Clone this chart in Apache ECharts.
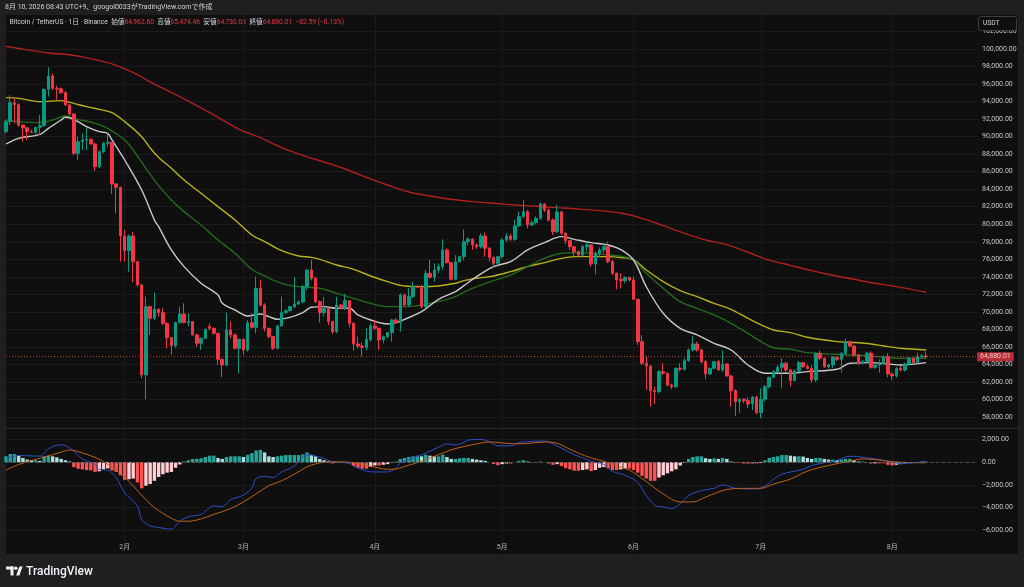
<!DOCTYPE html>
<html><head><meta charset="utf-8">
<script src="https://cdn.jsdelivr.net/npm/echarts@6/dist/echarts.min.js"></script>
<style>
html,body{margin:0;padding:0;background:#1f1f1f;width:1024px;height:587px;overflow:hidden}
#bg{position:absolute;left:6px;top:15px;width:1012px;height:539px;background:#0f0f0f}
#chart{position:absolute;left:0;top:0;width:1024px;height:587px}
</style></head><body>
<div id="bg"></div><div id="chart"></div>
<script>
// ---- axis / categories ----
const startDate = Date.UTC(2026, 0, 4);   // first daily candle
const totalSlots = 230;                    // 218 candles + empty future space
const categories = [];
for (let k = 0; k < totalSlots; k++) {
  const d = new Date(startDate + k * 86400000);
  categories.push(d.getUTCFullYear() + '-' + String(d.getUTCMonth() + 1).padStart(2, '0') + '-' + String(d.getUTCDate()).padStart(2, '0'));
}
const priceTicks = { min: 56000, max: 104000, step: 2000 };
const macdTicks = { min: -8000, max: 4000, step: 2000 };

// ---- candles [open, high, low, close] ----
const candlesJan = [
[90566,91900,90376,91707],[91707,94751,91327,93875],[93875,94370,91500,93650],[93650,93800,91100,91327],
[91327,91400,89424,91000],[91000,91100,89615,90566],[90566,90800,90400,90490],[90490,91100,90300,91060],
[91060,92468,90186,91251],[91251,95500,91100,95397],[95397,97908,94560,96919],[96919,97200,95321,95511],
[95511,95800,94180,95450],[95450,95600,94900,95016],[95016,95200,93500,93609],[93609,93700,92400,92582],
[92582,92700,87903,88093],[88093,89995,87332,89424],[89424,90376,88474,89615],[89615,91060,88474,89700],
[89700,89800,89100,89158],[89158,89300,86115,86572],[86572,88400,86400,88283],[88283,89400,88100,89234],
[89234,90376,88854,89350],[89350,89400,83453,84594],[84594,84700,81246,84213],[84213,84300,75730,78659]];
const candlesFeb = [
[78659,79344,75730,76985],[76985,78800,74589,78659],[78659,79153,73400,75730],[75730,75800,72900,73068],
[73068,73200,62417,62797],[62797,71736,60020,70595],[70595,70700,67362,69264],[69264,72193,69074,70290],
[70290,70405,69450,69910],[69910,70405,68503,68693],[68693,68800,65840,67057],[67057,67100,65079,66145],
[66145,68883,65900,68769],[68769,70595,68693,69758],[69758,70975,68693,68769],[68769,69834,68313,68900],
[68900,68950,67300,67362],[67362,67500,66030,66411],[66411,67100,65650,66981],[66981,68100,66900,68009],
[68350,68700,67900,68123],[68123,68200,67400,67552],[67552,67600,63938,64585],[64585,64700,62531,63938],
[63938,69910,63800,67932],[67932,68883,66981,67362],[67362,67552,65700,65840],[65840,66950,62987,66867]];
const candlesMar = [
[66867,66981,65079,65650],[65650,69074,65460,68769],[68769,69834,68100,68237],[68237,74019,67552,72687],
[72687,73638,70595,70785],[70785,70975,67742,68123],[68123,68200,67000,67171],[67171,67250,65650,65840],
[65840,68500,65700,68389],[68389,71736,68313,69910],[69910,70300,69800,70138],[70138,70700,70000,70595],
[70595,73943,70405,70899],[70899,71300,70800,71127],[71127,73068,70975,72877],[72877,74900,72500,74780],
[74780,75920,73600,73828],[73828,74000,71000,71166],[71166,71300,68769,69910],[69910,71700,69450,70405],
[70405,70500,68500,68883],[68883,69000,67500,67742],[67742,71736,67552,70785],[70785,70900,70300,70405],
[70405,72040,70214,71280],[71280,71350,68237,68693],[68693,68800,65574,66335],[66335,67171,65840,66107],
[66107,66500,64966,65955],[65955,68123,65650,66867],[66867,68693,66600,68389]];
const candlesApr = [
[68389,69074,67932,68123],[68123,68200,65650,66791],[66791,67300,66411,67171],[67171,67700,67000,67627],
[67627,69200,66600,69074],[69074,69300,68600,68769],[68769,72100,67742,71926],[71926,72100,70600,70785],
[70785,72687,70595,71736],[71736,73450,71546,72877],[72877,73100,72700,72800],[72800,73100,70400,70595],
[70595,74780,70400,74399],[74399,75920,73800,73943],[73943,75540,73450,74780],[74780,75540,74400,75160],
[75160,78279,74780,77060],[77060,77250,75540,75615],[75615,75700,73600,73714],[73714,76490,73600,75730],
[75730,76400,75600,76300],[76300,79420,75900,78013],[78013,78500,77600,78300],[78300,78400,77060,77630],
[77630,77800,77200,77440],[77440,78963,77250,78659],[78659,79039,76300,77250],[77250,77400,75730,76224],
[76224,76300,74970,75540],[75540,76400,75300,76300]];
const candlesMay = [
[76300,78400,76100,78203],[78203,78963,78000,78659],[78659,78900,78100,78279],[78279,80500,78100,79800],
[79800,81436,79700,80865],[80865,82768,80700,81436],[81436,81626,79533,79914],[79914,80400,79800,80180],
[80180,80900,80000,80675],[80675,82463,80500,82311],[82311,82387,81400,81626],[81626,81800,80300,80485],
[80485,80675,78773,79153],[79153,82197,78963,81400],[81400,81500,78773,78963],[78963,79100,77744,78127],
[78127,78200,77060,77440],[77440,77500,76110,76870],[76870,77000,76300,76490],[76490,77630,76300,77440],
[77440,78013,76870,77630],[77630,77700,75160,75464],[75464,76900,74285,76680],[76680,77364,76300,77060],
[77060,77820,76680,77440],[77440,78013,75540,75730],[75730,75920,74209,74399],[74399,74500,72573,73638],
[73700,74399,72687,73562],[73562,74019,73257,73943],[73943,74019,73448,73638]];
const candlesJun = [
[73638,74019,71356,71432],[71432,71500,66221,66601],[66601,67362,63938,64129],[64129,64890,61085,63823],
[63823,63900,59183,61009],[61009,61465,59487,60895],[60895,63367,60700,63177],[63177,64129,62800,62987],
[62987,63100,61465,61655],[61655,61800,61200,61465],[61465,63633,61300,63557],[63557,64129,63200,63443],
[63443,64700,63300,64433],[64433,65840,64300,65650],[65650,67247,65460,66335],[66335,66601,65460,65650],
[65650,65840,64129,64319],[64319,64500,62303,62911],[62911,63633,62800,63557],[63557,64400,63443,64319],
[64319,64500,63253,63367],[63367,65574,63177,64053],[64053,64129,62607,62683],[62683,62800,59183,61009],
[61009,61161,58115,59753],[59753,60134,58495,60020],[60020,60134,59563,59867],[59867,60248,58990,59487],
[59487,60400,58800,60248],[60248,60400,58300,58495]];
const candlesJul = [
[58495,61275,57849,60020],[60020,61655,59753,61465],[61465,62607,61275,62531],[62531,63367,62417,63177],
[63177,63938,63000,63671],[63671,64700,61275,64129],[64129,64300,63100,63367],[63367,63500,61465,62151],
[62151,63400,62100,63253],[63253,64400,63100,64205],[64205,64300,63600,63747],[63747,64000,63400,63557],
[63557,63900,61900,62227],[62227,65350,62000,65270],[65270,65574,64509,64699],[64699,64800,63600,63747],
[63747,64100,63557,63938],[63938,64966,63600,64813],[64813,64900,64400,64585],[64585,65400,63063,65270],
[65270,66981,65079,66601],[66601,66700,65955,66107],[66107,66200,64900,65079],[65079,65200,63938,64129],
[64129,64500,64000,64319],[64319,65460,64200,65270],[65270,65500,63500,63671],[63671,64100,63500,63938],
[63938,64585,63063,64053],[64053,65000,63900,64890],[64890,65270,62531,62911]];
const candlesAug = [
[62911,63063,62227,62683],[62683,63700,62500,63557],[63557,63800,63200,63367],[63367,64200,63200,64053],
[64053,64800,63900,64699],[64699,64800,64100,64205],[64205,65346,64100,64890],[64890,65200,64700,64962.60],
[64962.60,65474.46,64730.08,64880.01]];

// ---- moving averages: [day index, price] ----
const maRed = [[0,100300],[5,99906],[10,99550],[15,99350],[20,98900],[25,98300],[30,97300],[35,96000],[40,94788],[45,93533],[50,92202],[55,90832],[60,89881],[65,88740],[70,87865],[75,87104],[80,86306],[85,85354],[90,84480],[95,83681],[100,83225],[105,82844],[110,82578],[115,82387],[120,82197],[125,82045],[130,81893],[135,81740],[140,81550],[145,81284],[150,80675],[155,79838],[160,78963],[165,78203],[170,77668],[175,76800],[180,75900],[185,75312],[190,74704],[195,74171],[200,73714],[205,73258],[210,72877],[217,72231]];
const maYellow = [[0,94446],[3,94370],[8,93989],[13,94104],[16,93799],[19,93419],[22,93114],[25,92734],[28,91707],[32,89995],[34,88700],[36,87618],[39,86382],[42,85050],[46,83529],[50,82007],[54,80485],[58,78773],[61,78013],[65,76985],[69,76376],[72,76224],[74,75996],[78,75350],[82,74856],[86,74095],[90,73448],[94,72953],[98,72877],[102,72953],[106,73258],[108,73562],[111,73828],[115,74095],[119,74589],[123,75160],[127,75616],[131,76110],[134,76300],[138,76300],[142,76300],[145,76200],[148,75920],[151,74780],[155,73448],[159,72421],[163,71736],[167,70975],[171,70290],[175,69264],[179,68313],[181,67932],[185,67628],[189,67095],[196,66601],[200,66500],[204,66335],[207,66107],[211,65840],[217,65650]];
const maGreen = [[0,91897],[3,91707],[8,91593],[11,91897],[14,92354],[17,91973],[21,91517],[24,90946],[28,89615],[30,88474],[33,86382],[36,84400],[39,82768],[42,81436],[46,79914],[50,78203],[54,76681],[58,74856],[61,74095],[65,73258],[69,72877],[71,72800],[74,72687],[78,72117],[82,71546],[86,70975],[90,70595],[94,70595],[98,70785],[102,71166],[106,71736],[108,72250],[111,72877],[115,73562],[119,74209],[123,75160],[127,76110],[131,76681],[134,76757],[138,76681],[142,76491],[145,76350],[148,75920],[151,74399],[155,72687],[159,71166],[163,70405],[167,69645],[171,68693],[175,67552],[179,66335],[181,65900],[185,65726],[189,65346],[196,65156],[204,64966],[211,64699],[217,64699]];
const maWhite = [[0,89158],[3,89805],[8,90261],[10,90946],[13,91897],[14,92202],[16,91973],[19,91136],[22,90566],[24,90376],[25,89615],[28,87332],[32,83909],[35,80485],[36,79724],[39,77062],[42,75160],[46,73258],[50,71926],[51,70975],[54,70214],[57,69530],[60,69758],[62,69454],[64,69150],[67,69378],[70,69910],[72,70519],[75,70595],[78,70405],[81,70405],[83,69645],[86,69074],[90,68617],[92,68769],[94,69150],[98,70024],[102,71430],[106,72306],[108,73000],[111,74019],[115,75160],[119,75730],[123,77062],[127,77898],[131,78583],[134,78279],[138,77898],[142,77633],[145,77100],[148,75920],[151,72877],[155,69834],[159,68123],[163,67362],[167,66411],[171,65650],[175,63938],[179,62987],[181,62987],[185,62987],[189,63177],[196,63443],[199,64129],[204,64205],[208,64053],[211,63938],[217,64205]];

// ---- MACD ----
const macdHist = [
520,720,720,575,375,230,170,170,115,520,575,520,430,290,170,60,-430,-575,-630,-690,-720,-860,-800,-630,-550,-720,-860,-1150,
-1550,-1500,-1440,-1780,-2300,-2070,-1925,-1640,-1300,-1060,-920,-860,-490,-200,60,170,290,290,345,460,575,575,375,290,460,520,520,520,
460,660,800,1030,1090,860,520,460,520,575,630,630,630,630,690,860,660,520,290,170,60,-115,-60,0,-20,-115,-345,-490,-575,-575,-400,
-290,-290,-230,-170,-60,60,290,375,460,520,575,520,660,575,520,520,660,460,290,290,345,375,375,290,230,170,115,0,-170,-260,
-170,-115,-115,0,115,170,60,20,10,60,0,-115,-230,-170,-345,-520,-630,-750,-750,-690,-630,-780,-690,-490,-430,-550,-690,-690,-630,-575,-575,
-690,-920,-1200,-1440,-1640,-1640,-1350,-1150,-980,-800,-630,-290,-60,290,460,520,520,345,290,345,290,375,290,60,-60,-40,-115,-115,-100,-115,
-60,170,375,460,520,630,630,575,520,520,500,375,290,375,375,290,230,230,170,230,290,290,170,60,60,0,-115,-100,-100,-100,-230,
-290,-230,-170,-115,-60,-60,0,60,60];
const macdLine = [[0,290],[3,590],[8,530],[10,1180],[13,1530],[14,1470],[16,970],[18,290],[21,-200],[22,-650],[24,-700],[26,-1380],[28,-2700],[31,-3880],[32,-5060],[34,-5600],[36,-5750],[39,-5900],[41,-5200],[43,-4800],[46,-4600],[49,-3850],[51,-3900],[53,-3300],[56,-2900],[58,-2260],[59,-1440],[61,-1250],[63,-1350],[65,-860],[68,-345],[71,650],[74,450],[77,50],[81,-100],[82,-345],[85,-780],[87,-860],[90,-860],[92,-500],[93,-60],[96,375],[99,800],[102,1320],[104,1610],[106,1520],[108,1750],[109,1950],[112,2010],[114,1810],[116,1440],[119,1440],[121,1720],[123,1810],[127,1870],[129,1610],[131,1240],[134,660],[136,375],[138,90],[141,-200],[143,-800],[146,-1150],[149,-1780],[151,-2930],[153,-3790],[155,-3940],[157,-4080],[159,-3650],[161,-2930],[164,-2500],[167,-2300],[169,-2010],[172,-2300],[175,-2360],[177,-2360],[180,-1850],[181,-1490],[183,-1060],[185,-860],[188,-630],[190,-290],[193,-60],[196,170],[199,520],[200,520],[203,375],[206,230],[209,0],[211,-115],[214,-60],[217,90]];
const signalLine = [[0,-700],[3,-200],[6,150],[9,450],[13,880],[15,1070],[18,820],[22,250],[25,-450],[27,-1000],[29,-1700],[31,-2500],[33,-3300],[35,-4000],[37,-4500],[39,-4940],[41,-5200],[43,-5200],[46,-5000],[49,-4600],[53,-4080],[56,-3500],[59,-2790],[62,-2070],[65,-1640],[68,-1060],[71,-400],[73,-150],[75,0],[78,30],[81,0],[84,-200],[86,-350],[88,-520],[90,-630],[92,-600],[94,-380],[96,-150],[99,230],[102,660],[105,1090],[108,1380],[111,1610],[114,1780],[117,1700],[120,1620],[123,1650],[127,1780],[130,1670],[132,1320],[135,800],[138,375],[141,90],[143,-200],[146,-550],[148,-900],[151,-1700],[155,-2790],[159,-3500],[162,-3500],[165,-3070],[170,-2410],[175,-2300],[178,-2300],[181,-1925],[185,-1490],[189,-780],[194,-290],[199,90],[202,290],[205,230],[208,90],[211,0],[217,-60]];

// ---- build ----
const allCandles = [].concat(candlesJan, candlesFeb, candlesMar, candlesApr, candlesMay, candlesJun, candlesJul, candlesAug);
const candleData = allCandles.map(r => [r[0], r[3], r[2], r[1]]);
const last = allCandles[allCandles.length - 1];
const prevClose = allCandles[allCandles.length - 2][3];
const fmt = v => v.toLocaleString('en-US', { minimumFractionDigits: 2, maximumFractionDigits: 2 });
const fmtS = v => (v < 0 ? '\u2212' : '') + fmt(Math.abs(v));
const chg = last[3] - prevClose;
const pct = chg / prevClose * 100;

const histData = macdHist.map((v, k) => {
  const p = k > 0 ? macdHist[k - 1] : v;
  let c;
  if (v >= 0) c = v >= p ? '#26a69a' : '#b2dfdb';
  else c = v <= p ? '#ff5252' : '#ffcdd2';
  return { value: v, itemStyle: { color: c } };
});

const isMonthStart = (i, v) => typeof v === 'string' && v.slice(8) === '01';
const FONT = 'Roboto, "Noto Sans CJK JP", sans-serif';
const gridLine = { show: true, showMinLine: false, showMaxLine: false, lineStyle: { color: '#1c1c1c', width: 1 } };

const chart = echarts.init(document.getElementById('chart'), null, { renderer: 'canvas' });
const lineS = (data, color, w, grid) => ({
  type: 'line', data: data, xAxisIndex: grid, yAxisIndex: grid, showSymbol: false, symbol: 'none',
  smooth: 0.35, lineStyle: { color: color, width: w }, silent: true, z: 3
});

chart.setOption({
  backgroundColor: 'transparent',
  animation: false,
  textStyle: { fontFamily: FONT },
  grid: [
    { left: 6, top: 13.95, width: 971, height: 420.57 },
    { left: 6, top: 416.8, width: 971, height: 136.2 }
  ],
  xAxis: [
    { type: 'category', data: categories, gridIndex: 0, boundaryGap: false,
      axisLine: { show: false }, axisTick: { show: false }, axisLabel: { show: false },
      splitLine: { show: true, interval: isMonthStart, lineStyle: { color: '#1c1c1c' } } },
    { type: 'category', data: categories, gridIndex: 1, boundaryGap: false,
      axisLine: { show: false }, axisTick: { show: false },
      axisLabel: { show: true, inside: true, margin: 2, interval: isMonthStart, color: '#b2b5be', fontSize: 7, fontFamily: FONT,
        formatter: v => parseInt(v.slice(5, 7), 10) + '月' },
      splitLine: { show: true, interval: isMonthStart, lineStyle: { color: '#1c1c1c' } } }
  ],
  yAxis: [
    { type: 'value', gridIndex: 0, position: 'right', min: priceTicks.min, max: priceTicks.max, interval: priceTicks.step,
      axisLine: { show: false }, axisTick: { show: false },
      axisLabel: { color: '#c3c6ce', fontSize: 7, fontFamily: FONT, align: 'left', margin: 5,
        formatter: v => (v === priceTicks.min || v === priceTicks.max) ? '' : fmt(v) },
      splitLine: gridLine },
    { type: 'value', gridIndex: 1, position: 'right', min: macdTicks.min, max: macdTicks.max, interval: macdTicks.step,
      axisLine: { show: false }, axisTick: { show: false },
      axisLabel: { color: '#c3c6ce', fontSize: 7, fontFamily: FONT, align: 'left', margin: 5,
        formatter: v => (v === macdTicks.min || v === macdTicks.max) ? '' : fmtS(v) },
      splitLine: gridLine }
  ],
  series: [
    lineS(maRed, '#b0201e', 1.4, 0),
    lineS(maYellow, '#b8b01c', 1.4, 0),
    lineS(maGreen, '#236a1c', 1.4, 0),
    lineS(maWhite, '#c9c9c9', 1.4, 0),
    { type: 'candlestick', data: candleData, xAxisIndex: 0, yAxisIndex: 0, barWidth: 3, z: 4,
      itemStyle: { color: '#089981', color0: '#f23645', borderColor: '#089981', borderColor0: '#f23645', borderWidth: 1 },
      markLine: { silent: true, symbol: ['none', 'none'],
        lineStyle: { color: '#f23645', type: [1, 2], width: 1, opacity: 0.75 },
        label: { show: true, position: 'end', distance: 0, formatter: () => fmt(last[3]),
          backgroundColor: '#f23645', color: '#ffffff', fontSize: 7, fontFamily: FONT, padding: [1, 3, 1, 3] },
        data: [{ yAxis: last[3] }] } },
    { type: 'bar', data: histData, xAxisIndex: 1, yAxisIndex: 1, barWidth: 3.4, z: 2,
      markLine: { silent: true, symbol: ['none', 'none'], lineStyle: { color: '#555', type: [3, 3], width: 1 },
        label: { show: false }, data: [{ yAxis: 0 }] } },
    lineS(macdLine, '#2d4fc8', 1, 1),
    lineS(signalLine, '#c2611b', 1, 1)
  ],
  graphic: [
    { type: 'text', x: 5, y: 7.5, silent: true,
      style: { text: '8月 10, 2026 08:43 UTC+9、googol0033がTradingView.comで作成', fill: '#d1d4dc', fontSize: 7, fontFamily: FONT, verticalAlign: 'middle' } },
    { type: 'text', x: 9.5, y: 22.5, silent: true,
      style: {
        text: '{g|Bitcoin / TetherUS · 1日 · Binance  始値}{r|' + fmt(last[0]) + '}{g|  高値}{r|' + fmt(last[1]) + '}{g|  安値}{r|' + fmt(last[2]) + '}{g|  終値}{r|' + fmt(last[3]) + '  ' + fmtS(chg) + ' (' + fmtS(+pct.toFixed(2)) + '%)}',
        fontSize: 6.7, fontFamily: FONT, verticalAlign: 'middle',
        rich: { g: { fill: '#d1d4dc', fontSize: 6.7, fontFamily: FONT }, r: { fill: '#f23645', fontSize: 6.7, fontFamily: FONT } } } },
    { type: 'rect', shape: { x: 978.5, y: 16.5, width: 38, height: 14, r: 2 }, silent: true, z: 100,
      style: { fill: '#0f0f0f', stroke: '#3a3d45', lineWidth: 1 } },
    { type: 'text', x: 983, y: 23.5, silent: true, z: 101,
      style: { text: 'USDT', fill: '#d1d4dc', fontSize: 6.7, fontFamily: FONT, verticalAlign: 'middle' } },
    { type: 'line', shape: { x1: 6, y1: 428.5, x2: 1018, y2: 428.5 }, silent: true, z: 50,
      style: { stroke: '#2b2b2b', lineWidth: 1 } },
    { type: 'group', x: 0, y: 0, silent: true, children: [
      { type: 'rect', shape: { x: 6, y: 566.5, width: 7.5, height: 3 }, style: { fill: '#f0f3fa' } },
      { type: 'rect', shape: { x: 10.5, y: 566.5, width: 3, height: 9 }, style: { fill: '#f0f3fa' } },
      { type: 'circle', shape: { cx: 15.8, cy: 568.2, r: 1.7 }, style: { fill: '#f0f3fa' } },
      { type: 'polygon', shape: { points: [[16.2, 575.5], [19.4, 575.5], [22.6, 566.5], [19.4, 566.5]] }, style: { fill: '#f0f3fa' } }
    ] },
    { type: 'text', x: 26, y: 571.5, silent: true,
      style: { text: 'TradingView', fill: '#f0f3fa', fontSize: 12, fontWeight: 500, fontFamily: 'Roboto, sans-serif', verticalAlign: 'middle' } }
  ]
});
</script></body></html>
